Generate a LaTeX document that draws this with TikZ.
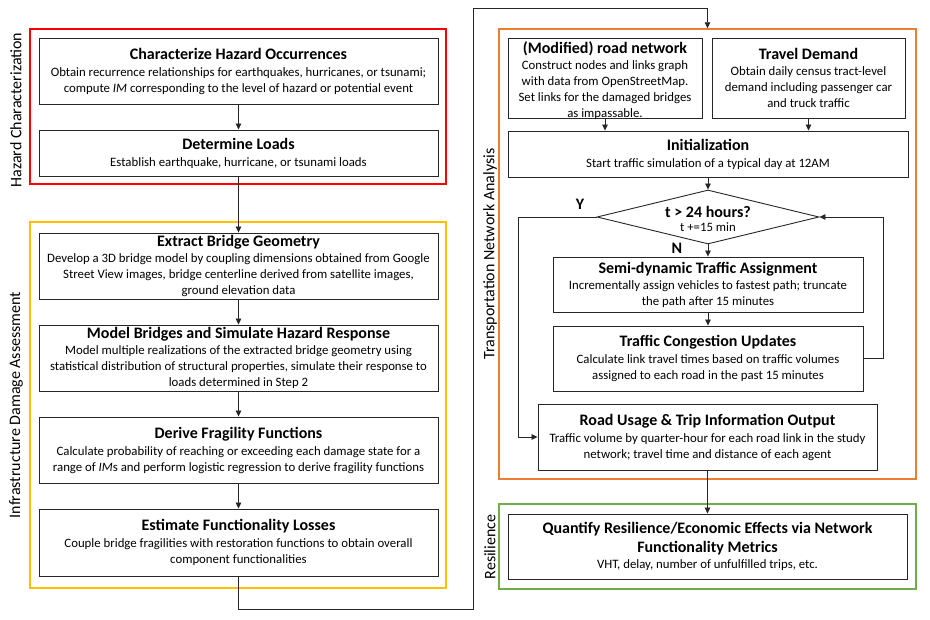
\documentclass[tikz,border=0pt]{standalone}
\usepackage{fontspec}
\setmainfont{Carlito}
\usetikzlibrary{arrows.meta,shapes.geometric}
\definecolor{hazred}{HTML}{FF0000}
\definecolor{infyel}{HTML}{FFC000}
\definecolor{traorg}{HTML}{ED7D31}
\definecolor{resgrn}{HTML}{70AD47}
\definecolor{boxline}{HTML}{262626}
\newcommand\ttl[1]{{\fontsize{16}{19}\selectfont\bfseries #1}}
\begin{document}
\begin{tikzpicture}[x=1pt,y=-1pt,
 box/.style={draw=boxline, line width=0.9pt, align=center, inner sep=0pt, font=\fontsize{12.8}{16}\selectfont},
 boxtext/.style={align=center, inner sep=0pt, font=\fontsize{12.8}{16}\selectfont},
 frame/.style={draw=#1, line width=1.4pt, inner sep=0pt},
 arr/.style={-{Triangle[length=6pt,width=5.5pt]}, line width=0.8pt, draw=boxline},
 side/.style={rotate=90, font=\fontsize{16}{19}\selectfont, inner sep=0pt},
 lbl/.style={font=\fontsize{16}{19}\selectfont\bfseries, inner sep=0pt}]
\useasboundingbox (0,0) rectangle (930,620);
\fill[white] (0,0) rectangle (930,620);

% frames
\node[frame=hazred, minimum width=416pt, minimum height=155pt] (haz) at (238,106.5) {};
\node[frame=infyel, minimum width=416pt, minimum height=366pt] (infra) at (238,405) {};
\node[frame=traorg, minimum width=417pt, minimum height=450pt] (trans) at (707.5,254) {};
\node[frame=resgrn, minimum width=417pt, minimum height=85pt] (res) at (707.5,546.5) {};

% side labels
\node[side] (s1) at (16,110) {Hazard Characterization};
\node[side] (s2) at (16,405) {Infrastructure Damage Assessment};
\node[side] (s3) at (490,254) {Transportation Network Analysis};
\node[side] (s4) at (490,547) {Resilience};

% left column
\node[box, minimum width=399pt, minimum height=66pt] (n1) at (238.5,71)
 {\ttl{Characterize Hazard Occurrences}\\[1pt] Obtain recurrence relationships for earthquakes, hurricanes, or tsunami;\\ compute \textit{IM} corresponding to the level of hazard or potential event};
\node[box, minimum width=399pt, minimum height=46pt] (n2) at (238.5,153)
 {\ttl{Determine Loads}\\[1pt] Establish earthquake, hurricane, or tsunami loads};
\node[box, minimum width=399pt, minimum height=66pt] (n3) at (238.5,266)
 {\ttl{Extract Bridge Geometry}\\ Develop a 3D bridge model by coupling dimensions obtained from Google\\ Street View images, bridge centerline derived from satellite images,\\ ground elevation data};
\node[box, minimum width=399pt, minimum height=66pt] (n4) at (238.5,358)
 {\ttl{Model Bridges and Simulate Hazard Response}\\ Model multiple realizations of the extracted bridge geometry using\\ statistical distribution of structural properties, simulate their response to\\ loads determined in Step 2};
\node[box, minimum width=399pt, minimum height=66pt] (n5) at (238.5,450)
 {\ttl{Derive Fragility Functions}\\[1pt] Calculate probability of reaching or exceeding each damage state for a\\ range of \textit{IM}s and perform logistic regression to derive fragility functions};
\node[box, minimum width=399pt, minimum height=67pt] (n6) at (238.5,542.5)
 {\ttl{Estimate Functionality Losses}\\[1pt] Couple bridge fragilities with restoration functions to obtain overall\\ component functionalities};

% right column
\node[box, minimum width=194pt, minimum height=80pt] (n7) at (605,78) {};
\node[boxtext] (n7t) at (605,80.5)
 {\ttl{(Modified) road network}\\ Construct nodes and links graph\\ with data from OpenStreetMap.\\ Set links for the damaged bridges\\ as impassable.};
\node[box, minimum width=193pt, minimum height=80pt] (n8) at (808.5,78)
 {\ttl{Travel Demand}\\ Obtain daily census tract-level\\ demand including passenger car\\ and truck traffic};
\node[box, minimum width=400pt, minimum height=46pt] (n9) at (708,154)
 {\ttl{Initialization}\\[1pt] Start traffic simulation of a typical day at 12AM};
\node[draw=boxline, line width=0.9pt, shape=diamond, minimum width=222pt, minimum height=54pt, inner sep=0pt] (d) at (708,217) {};
\node[lbl] (dt) at (708,211.5) {t > 24 hours?};
\node[font=\fontsize{12.8}{15}\selectfont, inner sep=0pt] (dt2) at (708,227.5) {t +=15 min};
\node[lbl] (ly) at (580,204) {Y};
\node[lbl] (ln) at (677,248) {N};
\node[box, minimum width=310pt, minimum height=55pt] (n10) at (708,284.5)
 {\ttl{Semi-dynamic Traffic Assignment}\\ Incrementally assign vehicles to fastest path; truncate\\ the path after 15 minutes};
\node[box, minimum width=310pt, minimum height=65pt] (n11) at (708,358.5)
 {\ttl{Traffic Congestion Updates}\\[1pt] Calculate link travel times based on traffic volumes\\ assigned to each road in the past 15 minutes};
\node[box, minimum width=339pt, minimum height=66pt] (n12) at (707.5,437)
 {\ttl{Road Usage \& Trip Information Output}\\[1pt] Traffic volume by quarter-hour for each road link in the study\\ network; travel time and distance of each agent};
\node[box, minimum width=399pt, minimum height=65pt] (n13) at (707.5,546.5)
 {\ttl{Quantify Resilience/Economic Effects via Network}\\[3pt] \ttl{Functionality Metrics}\\ VHT, delay, number of unfulfilled trips, etc.};

% connector coordinates
\coordinate (c2) at (473,609);
\coordinate (c4) at (707.5,8);
\coordinate (c5) at (883,358.5);
\coordinate (c6) at (518,437);

% connectors
\draw[arr] (n1) -- (n2);
\draw[arr] (n2) -- (n3);
\draw[arr] (n3) -- (n4);
\draw[arr] (n4) -- (n5);
\draw[arr] (n5) -- (n6);
\draw[arr] (n6.south) |- (c2) |- (c4) -- (trans.north);
\draw[arr] (n7.south) -- (n7.south |- n9.north);
\draw[arr] (n8.south) -- (n8.south |- n9.north);
\draw[arr] (n9.south) -- (d.north);
\draw[arr] (d.south) -- (n10.north);
\draw[arr] (n10) -- (n11);
\draw[arr] (n11.east) -- (c5) |- (d.east);
\draw[arr] (d.west) -| (c6) -- (n12.west);
\draw[arr] (n12) -- (n13);
\end{tikzpicture}
\end{document}
